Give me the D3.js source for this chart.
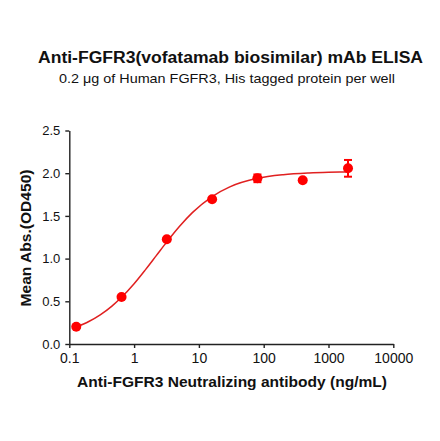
<!DOCTYPE html>
<html><head><meta charset="utf-8">
<script src="https://cdn.jsdelivr.net/npm/d3@7"></script>
<style>body{margin:0;background:#fff}svg{display:block}text{font-family:Arial,"Liberation Sans",sans-serif;fill:#111}</style>
</head><body><svg id="c" width="440" height="441"></svg>
<script>
const concentrations = [0.128, 0.64, 3.2, 16, 80, 400, 2000];
const meanAbs = [0.203, 0.55, 1.226, 1.694, 1.94, 1.917, 2.057];
const errAbs = [0, 0, 0, 0, 0.045, 0, 0.098];
const fitX = [0.128,0.2,0.3,0.45,0.64,1,1.5,2.2,3.2,5,8,16,30,80,200,500,1000,2000];
const fitY = [0.199,0.263,0.341,0.441,0.547,0.706,0.871,1.035,1.196,1.376,1.541,1.727,1.840,1.940,1.983,2.003,2.011,2.015];
const xTicks = [0.1, 1, 10, 100, 1000, 10000];
const xTickLabels = ["0.1","1","10","100","1000","10000"];
const yTicks = [0, 0.5, 1, 1.5, 2, 2.5];

const svg = d3.select("#c");
const x = d3.scaleLog().domain([0.1, 10000]).range([69.3, 393.3]);
const y = d3.scaleLinear().domain([0, 2.5]).range([344, 130.5]);
const red = "#ff0000";

svg.append("text").attr("x", 230.5).attr("y", 63.3).attr("text-anchor","middle")
  .attr("textLength",385).attr("lengthAdjust","spacingAndGlyphs")
  .style("font-size","16px").style("font-weight","bold").text("Anti-FGFR3(vofatamab biosimilar) mAb ELISA");
svg.append("text").attr("x", 227).attr("y", 83.3).attr("text-anchor","middle")
  .attr("textLength",336).attr("lengthAdjust","spacingAndGlyphs")
  .style("font-size","13.5px").text("0.2 μg of Human FGFR3, His tagged protein per well");

const xa = svg.append("g").attr("transform","translate(0,344)")
  .call(d3.axisBottom(x).tickValues(xTicks).tickFormat((d,i)=>xTickLabels[i]).tickSize(4).tickSizeOuter(0));
const ya = svg.append("g").attr("transform","translate(69.3,0)")
  .call(d3.axisLeft(y).tickValues(yTicks).tickFormat(d3.format(".1f")).tickSize(4).tickSizeOuter(0));
[xa, ya].forEach(a=>{
  a.selectAll("path,line").attr("stroke","#222").attr("stroke-width",1.4);
  a.selectAll("text").style("font-family","Arial,'Liberation Sans',sans-serif").attr("fill","#111");
});
xa.selectAll("text").style("font-size","14px").attr("dy","0.85em");
ya.selectAll("text").style("font-size","13px").attr("x",-9);

svg.append("text").attr("x", 232).attr("y", 387).attr("text-anchor","middle")
  .attr("textLength",310).attr("lengthAdjust","spacingAndGlyphs")
  .style("font-size","14.5px").style("font-weight","bold").text("Anti-FGFR3 Neutralizing antibody (ng/mL)");
svg.append("text").attr("transform","translate(30.5,238) rotate(-90)").attr("text-anchor","middle")
  .attr("textLength",137).attr("lengthAdjust","spacingAndGlyphs")
  .style("font-size","14.5px").style("font-weight","bold").text("Mean Abs.(OD450)");

const line = d3.line().x(d=>x(d[0])).y(d=>y(d[1])).curve(d3.curveMonotoneX);
svg.append("path").datum(fitX.map((v,i)=>[v,fitY[i]])).attr("d", line)
  .attr("fill","none").attr("stroke","#e02020").attr("stroke-width",1.5);

const pts = concentrations.map((c,i)=>({c, m:meanAbs[i], e:errAbs[i]}));
const eb = svg.append("g").attr("stroke",red).attr("stroke-width",2);
pts.filter(p=>p.e>0).forEach(p=>{
  const cx = x(p.c);
  eb.append("line").attr("x1",cx).attr("x2",cx).attr("y1",y(p.m+p.e)).attr("y2",y(p.m-p.e));
  eb.append("line").attr("x1",cx-4).attr("x2",cx+4).attr("y1",y(p.m+p.e)).attr("y2",y(p.m+p.e));
  eb.append("line").attr("x1",cx-4).attr("x2",cx+4).attr("y1",y(p.m-p.e)).attr("y2",y(p.m-p.e));
});
svg.append("g").selectAll("circle").data(pts).join("circle")
  .attr("cx",d=>x(d.c)).attr("cy",d=>y(d.m)).attr("r",5).attr("fill",red);
</script></body></html>
